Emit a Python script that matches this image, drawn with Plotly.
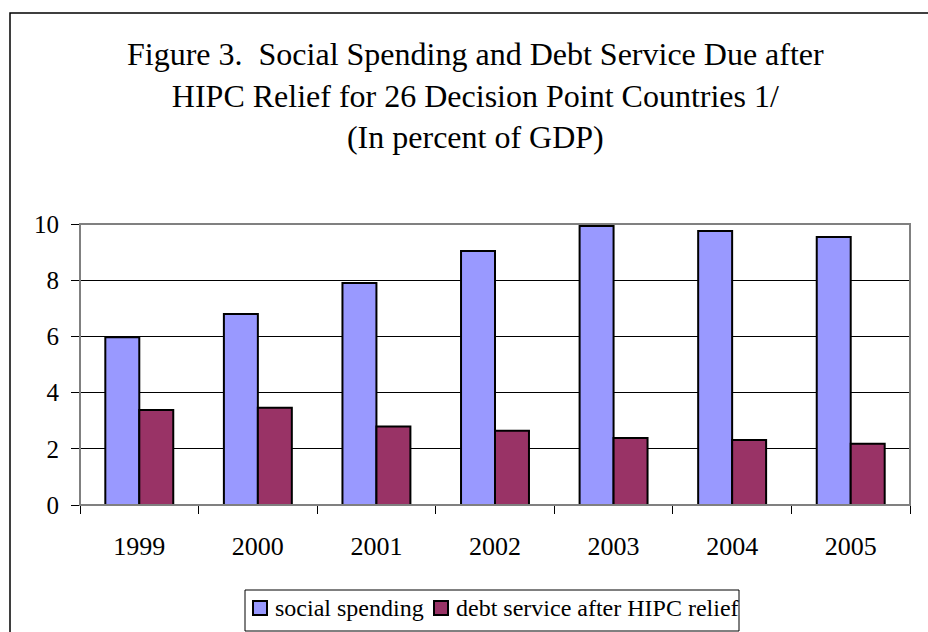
import plotly.graph_objects as go

years = ["1999", "2000", "2001", "2002", "2003", "2004", "2005"]
social_spending = [5.97, 6.80, 7.90, 9.04, 9.93, 9.75, 9.54]
debt_service = [3.38, 3.46, 2.79, 2.64, 2.38, 2.31, 2.18]
y_ticks = [0, 2, 4, 6, 8, 10]
series_names = ["social spending", "debt service after HIPC relief"]
series_colors = ["#9999FF", "#993366"]

FONT = "Liberation Serif"

fig = go.Figure()
fig.add_trace(go.Bar(x=years, y=social_spending, name=series_names[0], showlegend=False,
                     marker=dict(color=series_colors[0], line=dict(color="black", width=2))))
fig.add_trace(go.Bar(x=years, y=debt_service, name=series_names[1], showlegend=False,
                     marker=dict(color=series_colors[1], line=dict(color="black", width=2))))

L, R, T, B = 80, 18, 224, 127
W, H = 928, 632
pw, ph = W - L - R, H - T - B


def px_x(x):
    return (x - L) / pw


def px_y(y):
    return (H - B - y) / ph


shapes = [
    # plot-area border
    dict(type="rect", xref="paper", yref="paper", x0=0, x1=1, y0=0, y1=1,
         line=dict(color="#808080", width=2), layer="above"),
    # outer chart border
    dict(type="rect", xref="paper", yref="paper",
         x0=px_x(10), x1=px_x(940), y0=px_y(13), y1=px_y(660),
         line=dict(color="black", width=1.5), layer="below"),
    # legend box
    dict(type="rect", xref="paper", yref="paper",
         x0=px_x(245), x1=px_x(739), y0=px_y(590), y1=px_y(631),
         line=dict(color="black", width=1), fillcolor="white", layer="above"),
]
annotations = [
    dict(text="Figure 3.  Social Spending and Debt Service Due after<br>"
              "HIPC Relief for 26 Decision Point Countries 1/<br>(In percent of GDP)",
         xref="paper", yref="paper", x=px_x(475), y=px_y(95),
         xanchor="center", yanchor="middle", showarrow=False,
         font=dict(family=FONT, size=32, color="black")),
]

# manual legend entries (symbol square + label)
legend_items = [(253, 273), (434, 454)]
for (sx, tx), name, col in zip(legend_items, series_names, series_colors):
    shapes.append(dict(type="rect", xref="paper", yref="paper",
                       x0=px_x(sx), x1=px_x(sx + 14), y0=px_y(601), y1=px_y(615),
                       line=dict(color="black", width=2), fillcolor=col, layer="above"))
    annotations.append(dict(text=name, xref="paper", yref="paper",
                            x=px_x(tx), y=px_y(608), xanchor="left", yanchor="middle",
                            showarrow=False, font=dict(family=FONT, size=24, color="black")))

fig.update_layout(
    width=W, height=H,
    margin=dict(l=L, r=R, t=T, b=B, autoexpand=False),
    paper_bgcolor="white", plot_bgcolor="white",
    font=dict(family=FONT, color="black"),
    barmode="group", bargap=0.427, bargroupgap=0,
    showlegend=False,
    xaxis=dict(
        showline=True, linecolor="black", linewidth=1,
        ticks="outside", tickson="boundaries", ticklen=8, tickcolor="black",
        tickfont=dict(family=FONT, size=26), ticklabelstandoff=18,
        showgrid=False,
    ),
    yaxis=dict(
        range=[0, 10], tickvals=y_ticks, ticktext=[str(v) for v in y_ticks],
        showline=True, linecolor="#404040", linewidth=1,
        ticks="outside", ticklen=8, tickcolor="black",
        tickfont=dict(family=FONT, size=25), ticklabelstandoff=7,
        showgrid=True, gridcolor="black", gridwidth=1, zeroline=False,
    ),
    shapes=shapes,
    annotations=annotations,
)

fig.write_html("out.html")
